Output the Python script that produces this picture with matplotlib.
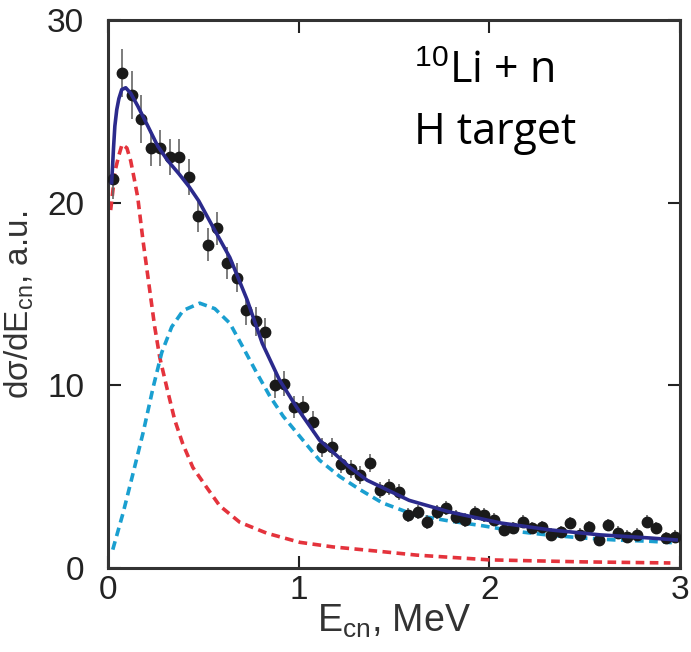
import matplotlib
matplotlib.use("Agg")
import matplotlib.pyplot as plt

plt.rcParams['font.family'] = ['Liberation Sans', 'DejaVu Sans']
plt.rcParams['mathtext.fontset'] = 'custom'
plt.rcParams['mathtext.rm'] = 'Liberation Sans'
plt.rcParams['mathtext.it'] = 'Liberation Sans:italic'

# measured spectrum, 50 keV bins
e_data = [0.025, 0.075, 0.125, 0.175, 0.225, 0.275, 0.325, 0.375, 0.425, 0.475,
          0.525, 0.575, 0.625, 0.675, 0.725, 0.775, 0.825, 0.875, 0.925, 0.975,
          1.025, 1.075, 1.125, 1.175, 1.225, 1.275, 1.325, 1.375, 1.425, 1.475,
          1.525, 1.575, 1.625, 1.675, 1.725, 1.775, 1.825, 1.875, 1.925, 1.975,
          2.025, 2.075, 2.125, 2.175, 2.225, 2.275, 2.325, 2.375, 2.425, 2.475,
          2.525, 2.575, 2.625, 2.675, 2.725, 2.775, 2.825, 2.875, 2.925, 2.975]
y_data = [21.3, 27.1, 25.9, 24.6, 23.0, 23.0, 22.5, 22.5, 21.4, 19.3,
          17.7, 18.6, 16.7, 15.9, 14.1, 13.5, 12.9, 10.0, 10.1, 8.8,
          8.8, 8.0, 6.6, 6.6, 5.7, 5.4, 5.1, 5.75, 4.27, 4.43,
          4.16, 2.90, 3.07, 2.52, 3.07, 3.28, 2.79, 2.63, 3.01, 2.90,
          2.63, 2.08, 2.19, 2.52, 2.19, 2.24, 1.81, 1.97, 2.46, 1.81,
          2.24, 1.53, 2.35, 1.92, 1.70, 1.81, 2.52, 2.19, 1.64, 1.70]
y_err = [1.1, 1.3, 1.3, 1.3, 1.0, 1.0, 1.0, 1.0, 1.0, 0.9,
         0.9, 0.9, 0.9, 0.8, 0.8, 0.8, 0.8, 0.7, 0.7, 0.6,
         0.6, 0.6, 0.5, 0.5, 0.5, 0.5, 0.5, 0.5, 0.45, 0.45,
         0.45, 0.4, 0.4, 0.4, 0.4, 0.4, 0.4, 0.4, 0.4, 0.4,
         0.35, 0.35, 0.35, 0.35, 0.35, 0.35, 0.35, 0.35, 0.35, 0.35,
         0.35, 0.35, 0.35, 0.35, 0.35, 0.35, 0.35, 0.35, 0.35, 0.35]

# fit: total and its two components
e_total = [0.02, 0.025, 0.03, 0.037, 0.047, 0.058, 0.073, 0.094, 0.12, 0.157,
           0.21, 0.262, 0.315, 0.372, 0.425, 0.477, 0.55, 0.64, 0.73, 0.81,
           0.90, 0.99, 1.11, 1.27, 1.36, 1.58, 1.79, 2.06, 2.32, 2.58, 2.84, 2.98]
y_total = [21.1, 22.0, 23.0, 24.2, 25.1, 25.7, 26.2, 26.3, 26.0, 25.3,
           24.2, 23.1, 22.3, 21.6, 20.9, 20.1, 18.7, 17.0, 14.7, 12.3,
           10.3, 8.8, 7.0, 5.5, 4.8, 3.7, 3.07, 2.46, 2.08, 1.81, 1.64, 1.53]

e_red = [0.015, 0.026, 0.037, 0.058, 0.075, 0.1, 0.12, 0.137, 0.157, 0.185,
         0.22, 0.246, 0.273, 0.309, 0.351, 0.393, 0.446, 0.519, 0.587, 0.692,
         0.834, 1.007, 1.18, 1.43, 1.62, 2.0, 2.49, 2.95]
y_red = [19.6, 20.6, 21.7, 22.6, 23.2, 23.0, 22.3, 21.4, 20.3, 17.9,
         15.2, 13.2, 11.5, 9.9, 8.1, 6.8, 5.5, 4.4, 3.4, 2.5,
         1.9, 1.4, 1.15, 0.9, 0.7, 0.44, 0.33, 0.27]

e_cyan = [0.026, 0.08, 0.133, 0.185, 0.238, 0.283, 0.335, 0.395, 0.482, 0.561,
          0.64, 0.708, 0.78, 0.85, 0.92, 1.007, 1.11, 1.217, 1.32, 1.44,
          1.61, 1.79, 1.97, 2.14, 2.31, 2.49, 2.66, 2.84, 2.98]
y_cyan = [1.0, 3.0, 5.2, 7.4, 9.9, 11.8, 13.2, 14.1, 14.5, 14.2,
          13.4, 12.1, 10.7, 9.4, 8.3, 7.2, 5.9, 5.0, 4.3, 3.56,
          2.9, 2.57, 2.3, 2.0, 1.8, 1.64, 1.53, 1.46, 1.37]

fig = plt.figure(figsize=(6.91, 6.52), dpi=100)
ax = fig.add_axes([0.156, 0.129, 0.828, 0.840])

ax.plot(e_red, y_red, color='#e4333c', lw=2.6, ls=(0, (2.4, 1.5)), zorder=2)
ax.plot(e_cyan, y_cyan, color='#1a9fd0', lw=2.6, ls=(0, (2.4, 1.5)), zorder=2)
ax.errorbar(e_data, y_data, yerr=y_err, fmt='o', color='#1a1a1a', ms=7.5,
            ecolor='#666666', elinewidth=1.2, capsize=0, zorder=3)
ax.plot(e_total, y_total, color='#2b2a8c', lw=2.6, zorder=4)

ax.set_xlim(0, 3)
ax.set_ylim(0, 30)
ax.set_xticks([0, 1, 2, 3])
ax.set_yticks([0, 10, 20, 30])
ax.tick_params(direction='in', length=9, width=1.5, top=True, right=True,
               labelsize=24, colors='#222222')
ax.tick_params(axis='x', pad=5)
ax.tick_params(axis='y', pad=17)
for s in ax.spines.values():
    s.set_linewidth(2.2)
    s.set_color('#333333')

ax.set_xlabel('E$_{\\mathrm{cn}}$, MeV', fontsize=27, labelpad=-2, color='#333333')
ax.set_ylabel('d\u03c3/dE$_{\\mathrm{cn}}$, a.u.', fontsize=24, color='#333333')
ax.yaxis.set_label_coords(-0.125, 0.48)

ax.text(0.535, 0.905, '$^{10}$Li + n', transform=ax.transAxes, fontsize=31,
        family=['Open Sans', 'DejaVu Sans'], va='center', ha='left')
ax.text(0.535, 0.795, 'H target', transform=ax.transAxes, fontsize=31,
        family=['Open Sans', 'DejaVu Sans'], va='center', ha='left')

fig.savefig('out.png', dpi=100)
